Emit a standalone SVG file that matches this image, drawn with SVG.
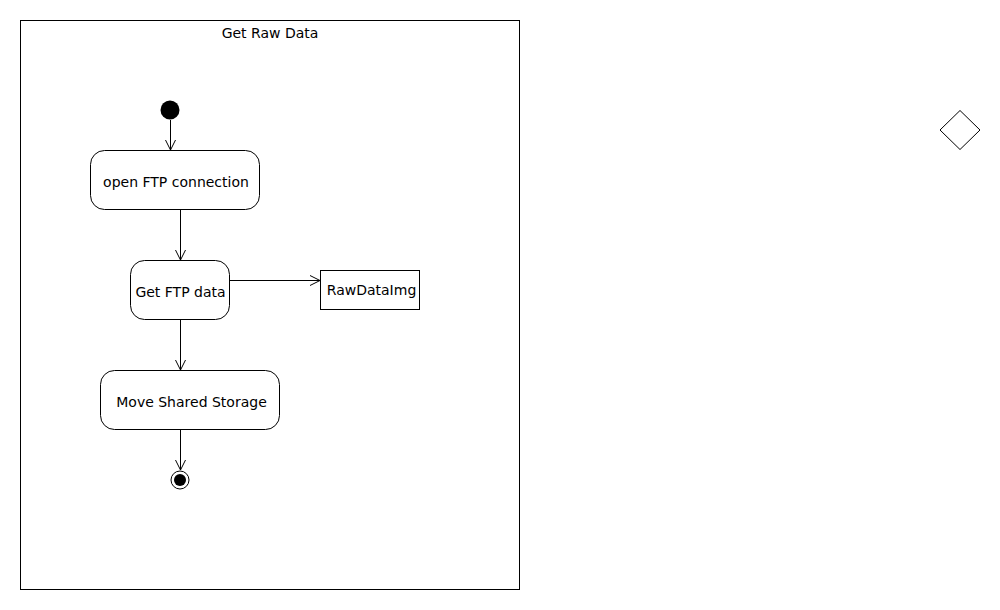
<svg xmlns="http://www.w3.org/2000/svg" width="1000" height="610" viewBox="0 0 1000 610">
<style>
text{font-family:"DejaVu Sans",sans-serif;font-size:14px;fill:#000}
.n{fill:#fff;stroke:#000;stroke-width:1}
.c{fill:none;stroke:#000;stroke-width:1}
</style>
<defs>
<marker id="a" markerWidth="12" markerHeight="12" refX="10" refY="5" orient="auto" markerUnits="userSpaceOnUse" overflow="visible">
<path d="M0,0 L10,5 L0,10" fill="none" stroke="#000" stroke-width="1"/>
</marker>
</defs>
<rect width="1000" height="610" fill="#fff"/>
<g id="frame">
<rect class="n" x="20.5" y="20.5" width="499" height="569"/>
<text x="270" y="38" text-anchor="middle">Get Raw Data</text>
</g>
<g id="start"><circle cx="170" cy="110" r="9.5" fill="#000"/></g>
<g id="open"><rect class="n" x="90.5" y="150.5" width="169" height="59" rx="14"/><text x="176" y="187" text-anchor="middle">open FTP connection</text></g>
<g id="getdata"><rect class="n" x="130.5" y="260.5" width="99" height="59" rx="14"/><text x="180.5" y="297" text-anchor="middle">Get FTP data</text></g>
<g id="raw"><rect class="n" x="320.5" y="270.5" width="99" height="39"/><text x="371.5" y="295" text-anchor="middle">RawDataImg</text></g>
<g id="move"><rect class="n" x="100.5" y="370.5" width="179" height="59" rx="14"/><text x="191.5" y="407" text-anchor="middle">Move Shared Storage</text></g>
<g id="end"><circle cx="180" cy="480" r="9" fill="#fff" stroke="#000"/><circle cx="180" cy="480" r="6" fill="#000"/></g>
<g id="decision"><polygon class="n" points="960,110.5 980,130 960,149.5 940,130"/></g>
<g id="connectors">
<line class="c" x1="170.5" y1="120" x2="170.5" y2="150" marker-end="url(#a)"/>
<line class="c" x1="180.5" y1="210" x2="180.5" y2="260" marker-end="url(#a)"/>
<line class="c" x1="230" y1="280.5" x2="320" y2="280.5" marker-end="url(#a)"/>
<line class="c" x1="180.5" y1="320" x2="180.5" y2="370" marker-end="url(#a)"/>
<line class="c" x1="180.5" y1="430" x2="180.5" y2="470" marker-end="url(#a)"/>
</g>
</svg>
